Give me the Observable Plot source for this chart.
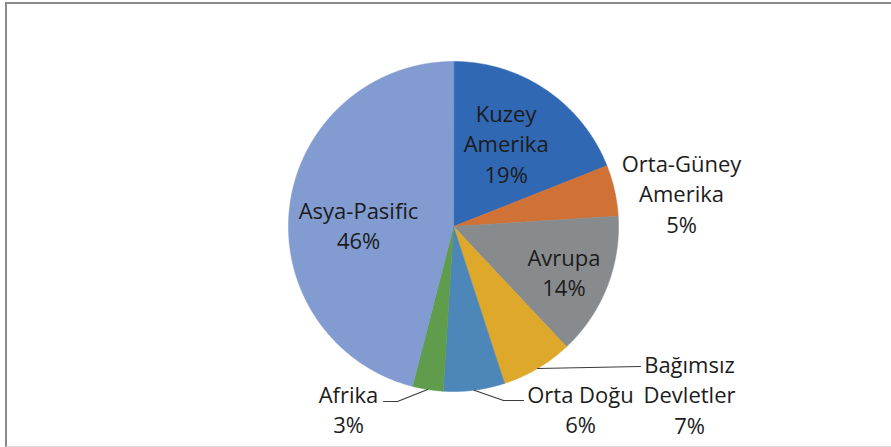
<!DOCTYPE html>
<html><head><meta charset="utf-8">
<script src="https://cdn.jsdelivr.net/npm/d3@7"></script>
<script src="https://cdn.jsdelivr.net/npm/@observablehq/plot@0.6"></script>
<style>
body{margin:0;background:#fff}
#wrap{position:relative;width:891px;height:447px;overflow:hidden}
#frame{position:absolute;left:5px;top:2px;right:-5px;bottom:0;border-top:2px solid #8a8a8a;border-left:2px solid #8a8a8a;border-bottom:1px solid #d9d9d9;pointer-events:none}
#wrap svg{position:absolute;left:0;top:0}
</style>
</head><body><div id="wrap"><div id="frame"></div></div>
<script>
// ---- data ----
const regions = ["Kuzey Amerika","Orta-Güney Amerika","Avrupa","Bağımsız Devletler","Orta Doğu","Afrika","Asya-Pasific"];
const labelNames = ["Kuzey\nAmerika","Orta-Güney\nAmerika","Avrupa","Bağımsız\nDevletler","Orta Doğu","Afrika","Asya-Pasific"];
const shares = [19, 5, 14, 7, 6, 3, 46];
const colors = ["#3068b3","#d07236","#888b8d","#dea82a","#4d87b9","#5f9c4b","#829bd1"];

// ---- layout (pixels / radius factors, not data) ----
const W = 891, H = 447, R = 165, CX = 453, CY = 226;
// inside labels: radius factor along mid-angle + px nudge; outside: px offset from centre
const labelLayout = {
  "Kuzey Amerika":      {k: 0.6,  nx: -3, ny: -2},
  "Avrupa":             {k: 0.72, nx: 0,  ny: 1},
  "Asya-Pasific":       {k: 0.58, nx: 0,  ny: 10},
  "Orta-Güney Amerika": {ox: 228, oy: -34},
  "Bağımsız Devletler": {ox: 236, oy: 167, lead: [[-49, -27]]},
  "Orta Doğu":          {ox: 127, oy: 182, lead: [[-77, -8], [-57, -8]]},
  "Afrika":             {ox: -105, oy: 182, lead: [[49, -7], [35, -7]]}
};

const total = d3.sum(shares);
let cum = 0;
const slices = regions.map((r, i) => {
  const a0 = cum / total * 2 * Math.PI;
  cum += shares[i];
  const a1 = cum / total * 2 * Math.PI;
  return {region: r, i, a0, a1, mid: (a0 + a1) / 2};
});

const polar = (a, k) => [k * Math.sin(a), k * Math.cos(a)];

const slicePts = [];
for (const s of slices) {
  slicePts.push({region: s.region, x: 0, y: 0});
  const n = Math.max(2, Math.ceil((s.a1 - s.a0) / (Math.PI / 720)));
  for (let j = 0; j <= n; j++) {
    const a = s.a0 + (s.a1 - s.a0) * j / n;
    const [x, y] = polar(a, 1);
    slicePts.push({region: s.region, x, y});
  }
}

const labels = slices.map(s => {
  const L = labelLayout[s.region];
  let x, y;
  if (L.k !== undefined) {
    [x, y] = polar(s.mid, L.k);
    x += L.nx / R; y -= L.ny / R;
  } else {
    x = L.ox / R; y = -L.oy / R;
  }
  return {region: s.region, x, y, text: labelNames[s.i] + "\n" + shares[s.i] + "%"};
});

const leaders = [];
for (const s of slices) {
  const L = labelLayout[s.region];
  if (!L.lead) continue;
  const lab = labels[s.i];
  const [px, py] = polar(s.mid, 1);
  leaders.push({region: s.region, x: px, y: py});
  for (const [dx, dy] of L.lead) leaders.push({region: s.region, x: lab.x + dx / R, y: lab.y - dy / R});
}

const chart = Plot.plot({
  width: W, height: H, margin: 0,
  x: {domain: [-CX / R, (W - CX) / R], axis: null},
  y: {domain: [-(H - CY) / R, CY / R], axis: null},
  color: {domain: regions, range: colors},
  style: {background: "transparent", overflow: "visible"},
  marks: [
    Plot.line(slicePts, {x: "x", y: "y", z: "region", fill: "region", stroke: "region", strokeWidth: 0.6, curve: "linear-closed"}),
    Plot.line(leaders, {x: "x", y: "y", z: "region", stroke: "#3a3a3a", strokeWidth: 1.1}),
    Plot.text(labels, {x: "x", y: "y", text: "text", fill: "#1c1c1c", fontSize: 22, lineHeight: 1.38, fontFamily: "Open Sans", textAnchor: "middle"})
  ]
});
document.getElementById("wrap").prepend(chart);
</script>
</body></html>
